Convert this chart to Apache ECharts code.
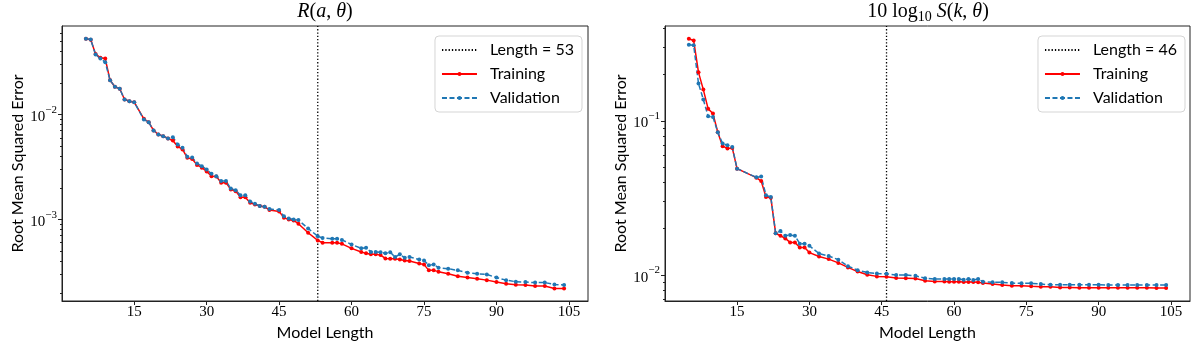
<!DOCTYPE html>
<html>
<head>
<meta charset="utf-8">
<title>RMSE vs model length</title>
<script src="https://cdn.jsdelivr.net/npm/echarts@6/dist/echarts.min.js"></script>
<style>
  html, body { margin: 0; padding: 0; background: #fff; }
  #main { width: 1200px; height: 341px; }
</style>
</head>
<body>
<div id="main"></div>
<script>
// ==================================================
// data

// R(a, theta)
var leftX = [5, 6, 7, 8, 9, 10, 11, 12, 13, 14, 15, 17, 18, 19, 20, 21, 22, 23, 24, 25,
  26, 27, 28, 29, 30, 31, 32, 33, 34, 35, 36, 37, 38, 39, 40, 41, 42, 43, 45, 46,
  47, 48, 49, 51, 53, 54, 56, 57, 58, 60, 62, 63, 64, 65, 66, 67, 68, 69, 70, 71,
  72, 74, 75, 76, 77, 78, 80, 82, 84, 86, 88, 90, 92, 94, 96, 98, 100, 102, 104];
var leftTrain = [0.0528, 0.0515, 0.0378, 0.0347, 0.0341, 0.0212, 0.0184, 0.0176, 0.0139, 0.0134,
  0.0131, 0.0091, 0.00845, 0.00705, 0.00645, 0.00621, 0.00591, 0.00565, 0.00496, 0.00464,
  0.00386, 0.00377, 0.00331, 0.00311, 0.00287, 0.00258, 0.00257, 0.00224, 0.00224, 0.00193,
  0.00186, 0.00163, 0.00163, 0.00144, 0.00139, 0.00134, 0.00132, 0.00123, 0.00119, 0.00104,
  0.00100, 0.000977, 0.000910, 0.000747, 0.000631, 0.000600, 0.000600, 0.000600, 0.000585, 0.000530,
  0.000489, 0.000475, 0.000465, 0.000465, 0.000457, 0.000425, 0.000423, 0.000423, 0.000416, 0.000407,
  0.000401, 0.000381, 0.000371, 0.000327, 0.000327, 0.000318, 0.000304, 0.000288, 0.000279, 0.000272,
  0.000264, 0.000253, 0.000244, 0.000239, 0.000237, 0.000232, 0.000232, 0.000220, 0.000220];
var leftVal = [0.0526, 0.0518, 0.0372, 0.0341, 0.0315, 0.0212, 0.0184, 0.0176, 0.0139, 0.0134,
  0.0131, 0.00896, 0.00845, 0.00705, 0.00645, 0.00621, 0.00591, 0.00608, 0.00518, 0.00482,
  0.00395, 0.00389, 0.00341, 0.00322, 0.00299, 0.00272, 0.00258, 0.00232, 0.00232, 0.00197,
  0.00190, 0.00170, 0.00170, 0.00148, 0.00141, 0.00134, 0.00132, 0.00126, 0.00123, 0.00107,
  0.00102, 0.00100, 0.000985, 0.000820, 0.000693, 0.000664, 0.000655, 0.000655, 0.000638, 0.000578,
  0.000530, 0.000536, 0.000490, 0.000490, 0.000488, 0.000475, 0.000488, 0.000438, 0.000465, 0.000432,
  0.000438, 0.000416, 0.000407, 0.000365, 0.000373, 0.000347, 0.000339, 0.000327, 0.000311, 0.000304,
  0.000299, 0.000279, 0.000264, 0.000255, 0.000253, 0.000250, 0.000250, 0.000240, 0.000237];
var leftCut = 53;

// 10 log10 S(k, theta)
var rightX = [5, 6, 7, 8, 9, 10, 11, 12, 13, 14, 15, 19, 20, 21, 22, 23, 24, 25, 26, 27,
  28, 29, 30, 32, 34, 36, 38, 40, 42, 44, 46, 48, 50, 52, 54, 56, 58, 59, 60, 61,
  62, 63, 64, 65, 66, 68, 70, 72, 74, 76, 78, 80, 82, 84, 86, 88, 90, 92, 94, 96,
  98, 100, 102, 104];
var rightTrain = [0.342, 0.333, 0.207, 0.160, 0.120, 0.1118, 0.0846, 0.0687, 0.0664, 0.0669,
  0.0491, 0.0429, 0.0408, 0.0321, 0.0318, 0.0187, 0.0180, 0.0173, 0.0163, 0.0163,
  0.0151, 0.0151, 0.0140, 0.0132, 0.0127, 0.0120, 0.01122, 0.01054, 0.01005, 0.00981,
  0.00976, 0.00957, 0.00953, 0.00949, 0.00919, 0.00910, 0.00908, 0.00906, 0.00906, 0.00906,
  0.00901, 0.00901, 0.00901, 0.00897, 0.00888, 0.00875, 0.00861, 0.00853, 0.00853, 0.00845,
  0.00840, 0.00840, 0.00832, 0.00832, 0.00829, 0.00829, 0.00829, 0.00827, 0.00827, 0.00827,
  0.00827, 0.00827, 0.00824, 0.00824];
var rightVal = [0.313, 0.310, 0.175, 0.138, 0.1074, 0.1061, 0.0846, 0.0715, 0.0697, 0.0679,
  0.0491, 0.0431, 0.0436, 0.0330, 0.0321, 0.0187, 0.0193, 0.0180, 0.0182, 0.0180,
  0.0160, 0.0160, 0.0155, 0.0138, 0.0133, 0.0126, 0.01143, 0.01077, 0.01040, 0.01025,
  0.01019, 0.01003, 0.01003, 0.00989, 0.00953, 0.00942, 0.00942, 0.00942, 0.00942, 0.00942,
  0.00933, 0.00942, 0.00929, 0.00942, 0.00906, 0.00897, 0.00897, 0.00888, 0.00884, 0.00884,
  0.00875, 0.00865, 0.00865, 0.00865, 0.00865, 0.00865, 0.00865, 0.00861, 0.00861, 0.00861,
  0.00861, 0.00861, 0.00861, 0.00861];
var rightCut = 46;

// ticks
var xTicks = [15, 30, 45, 60, 75, 90, 105];
var leftDecades = [-3, -2];   // 10^-3, 10^-2
var rightDecades = [-2, -1];  // 10^-2, 10^-1

// axis ranges
var xMin = 0.05, xMax = 108.95;
var leftYMin = 1.67e-4, leftYMax = 0.0697;
var rightYMin = 0.00679, rightYMax = 0.414;

// ==================================================
var serif = '"Liberation Serif", "DejaVu Serif", serif';
var sans = 'Lato, "Open Sans", sans-serif';
var axisColor = '#222';
var red = '#ff0000';
var blue = '#1f77b4';

function pairs(xs, ys) {
  return xs.map(function (x, i) { return [x, ys[i]]; });
}

// log positions of 2..9 x 10^e inside [lo, hi]
function minorTicks(lo, hi) {
  var out = [];
  for (var e = Math.floor(lo); e <= Math.ceil(hi); e++) {
    for (var k = 2; k <= 9; k++) {
      var v = e + Math.log10(k);
      if (v >= lo && v <= hi) out.push(v);
    }
  }
  return out;
}

function xAxisFor(gi) {
  return {
    type: 'value', gridIndex: gi, min: xMin, max: xMax,
    name: 'Model Length', nameLocation: 'middle', nameGap: 23,
    nameTextStyle: { fontFamily: sans, fontSize: 16, color: '#000' },
    axisLine: { onZero: false, lineStyle: { color: axisColor, width: 1 } },
    splitLine: { show: false },
    axisTick: { customValues: xTicks, length: 4, lineStyle: { color: axisColor } },
    axisLabel: { customValues: xTicks, margin: 4, fontFamily: serif, fontSize: 15, color: '#000' }
  };
}

function yAxesFor(gi, lo, hi, decades) {
  var llo = Math.log10(lo), lhi = Math.log10(hi);
  return [
    // the real scale the series use
    { type: 'log', logBase: 10, gridIndex: gi, min: lo, max: hi, position: 'left', show: false },
    // major ticks and 10^n labels
    {
      type: 'value', gridIndex: gi, min: llo, max: lhi, position: 'left',
      name: 'Root Mean Squared Error', nameLocation: 'middle', nameGap: 36,
      nameTextStyle: { fontFamily: sans, fontSize: 16, color: '#000' },
      axisLine: { show: true, onZero: false, lineStyle: { color: axisColor } },
      splitLine: { show: false },
      axisTick: { customValues: decades, length: 4, lineStyle: { color: axisColor } },
      axisLabel: {
        customValues: decades, margin: 5,
        formatter: function (v) {
          return '{b|10}{s|\u2212' + (-Math.round(v)) + '}';
        },
        rich: {
          b: { fontFamily: serif, fontSize: 15, color: '#000', lineHeight: 20, verticalAlign: 'bottom' },
          s: { fontFamily: serif, fontSize: 11, color: '#000', lineHeight: 11, verticalAlign: 'top' }
        }
      }
    },
    // minor ticks
    {
      type: 'value', gridIndex: gi, min: llo, max: lhi, position: 'left',
      axisLine: { show: false }, splitLine: { show: false }, axisLabel: { show: false },
      axisTick: { customValues: minorTicks(llo, lhi), length: 2, lineStyle: { color: axisColor } }
    }
  ];
}

function seriesFor(gi, xs, train, val, cut, lo, hi) {
  var yi = gi * 3;
  return [
    {
      name: 'Length = ' + cut, type: 'line', xAxisIndex: gi, yAxisIndex: yi,
      data: [[cut, lo], [cut, hi]], symbol: 'none',
      lineStyle: { color: '#000', width: 1.3, type: [1.3, 2] },
      itemStyle: { color: '#000' }
    },
    {
      name: 'Training', type: 'line', xAxisIndex: gi, yAxisIndex: yi,
      data: pairs(xs, train), symbol: 'circle', symbolSize: 4,
      lineStyle: { color: red, width: 1.5 }, itemStyle: { color: red }
    },
    {
      name: 'Validation', type: 'line', xAxisIndex: gi, yAxisIndex: yi,
      data: pairs(xs, val), symbol: 'circle', symbolSize: 4,
      lineStyle: { color: blue, width: 1.5, type: [5, 2.5] }, itemStyle: { color: blue }
    }
  ];
}

function legendFor(cut, right) {
  return {
    orient: 'vertical', right: right, top: 36,
    data: [{ name: 'Length = ' + cut, itemStyle: { opacity: 0 } }, 'Training', 'Validation'],
    itemWidth: 35, itemHeight: 5, itemGap: 6, padding: [5, 8, 5, 6],
    backgroundColor: 'rgba(255,255,255,0.8)', borderColor: '#d5d5d5', borderWidth: 1, borderRadius: 4,
    textStyle: { fontFamily: sans, fontSize: 16, color: '#000', lineHeight: 18, padding: [0, 0, 0, 8] },
    selectedMode: false
  };
}

var titleRich = {
  n: { fontFamily: serif, fontWeight: 'normal', fontSize: 20, color: '#000', lineHeight: 22, verticalAlign: 'top' },
  i: { fontFamily: serif, fontWeight: 'normal', fontStyle: 'italic', fontSize: 20, color: '#000', lineHeight: 22, verticalAlign: 'top' },
  sub: { fontFamily: serif, fontWeight: 'normal', fontSize: 14, color: '#000', lineHeight: 14, verticalAlign: 'bottom' }
};

var chart = echarts.init(document.getElementById('main'), null, { renderer: 'canvas' });

chart.setOption({
  animation: false,
  backgroundColor: '#fff',
  title: [
    {
      text: '{i|R}{n|(}{i|a}{n|, }{i|\u03b8}{n|)}',
      left: 325, top: 2, textAlign: 'center', padding: 0,
      textStyle: { fontWeight: 'normal', rich: titleRich }
    },
    {
      text: '{n|10 log}{sub|10}{n| }{i|S}{n|(}{i|k}{n|, }{i|\u03b8}{n|)}',
      left: 928, top: 2, textAlign: 'center', padding: 0,
      textStyle: { fontWeight: 'normal', rich: titleRich }
    }
  ],
  legend: [legendFor(leftCut, 618), legendFor(rightCut, 15)],
  grid: [
    { left: 62, top: 26, width: 526, height: 275, show: true, borderColor: axisColor, borderWidth: 1, outerBoundsMode: 'none' },
    { left: 665, top: 26, width: 525, height: 275, show: true, borderColor: axisColor, borderWidth: 1, outerBoundsMode: 'none' }
  ],
  xAxis: [xAxisFor(0), xAxisFor(1)],
  yAxis: yAxesFor(0, leftYMin, leftYMax, leftDecades).concat(yAxesFor(1, rightYMin, rightYMax, rightDecades)),
  series: seriesFor(0, leftX, leftTrain, leftVal, leftCut, leftYMin, leftYMax)
    .concat(seriesFor(1, rightX, rightTrain, rightVal, rightCut, rightYMin, rightYMax))
});
</script>
</body>
</html>
